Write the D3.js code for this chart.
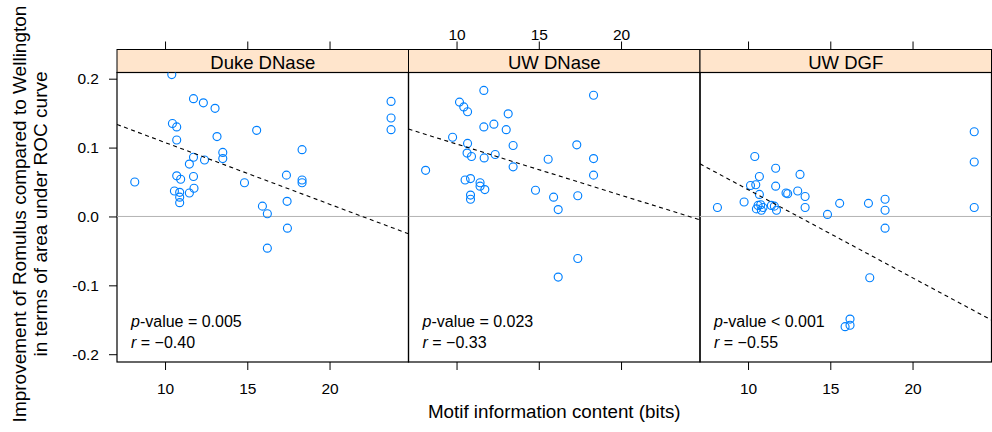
<!DOCTYPE html>
<html>
<head>
<meta charset="utf-8">
<script src="https://cdn.jsdelivr.net/npm/d3@7"></script>
<style>
  html, body { margin: 0; padding: 0; background: #fff; }
  svg { display: block; font-family: "Liberation Sans", Arial, Helvetica, sans-serif; }
</style>
</head>
<body>
<svg id="chart" width="992" height="432"></svg>
<script>
// ---------- data ----------
const panelNames = ["Duke DNase", "UW DNase", "UW DGF"];

const dukeX = [10.41, 11.73, 12.33, 13.04, 10.45, 10.71, 10.71, 13.16, 15.57, 23.74, 23.74, 23.74, 18.33,
  11.73, 12.40, 13.51, 13.51, 11.48, 8.16, 10.71, 10.95, 11.73, 10.57, 10.89, 10.89, 10.89, 11.48, 11.76,
  14.83, 17.38, 18.33, 18.33, 17.42, 15.92, 16.22, 17.44, 16.22];
const dukeY = [0.206, 0.171, 0.165, 0.157, 0.135, 0.130, 0.111, 0.116, 0.125, 0.167, 0.143, 0.126, 0.097,
  0.086, 0.082, 0.093, 0.084, 0.076, 0.050, 0.059, 0.054, 0.058, 0.037, 0.035, 0.028, 0.020, 0.034, 0.041,
  0.049, 0.060, 0.053, 0.049, 0.022, 0.015, 0.004, -0.017, -0.046];

const uwDnaseX = [11.66, 18.33, 10.18, 10.44, 10.67, 13.14, 12.27, 11.66, 13.02, 9.76, 10.67, 13.44, 17.31,
  10.64, 10.91, 11.68, 12.35, 15.57, 18.33, 13.44, 8.12, 18.33, 10.52, 10.85, 11.43, 11.43, 11.72, 10.85,
  10.85, 14.80, 15.90, 17.37, 16.18, 17.37, 16.18];
const uwDnaseY = [0.183, 0.176, 0.166, 0.159, 0.152, 0.149, 0.134, 0.130, 0.126, 0.115, 0.106, 0.103, 0.104,
  0.092, 0.087, 0.085, 0.090, 0.083, 0.084, 0.072, 0.067, 0.060, 0.053, 0.055, 0.049, 0.044, 0.039, 0.031,
  0.025, 0.038, 0.028, 0.030, 0.010, -0.061, -0.088];

const uwDgfX = [23.75, 23.75, 23.75, 10.41, 11.68, 10.69, 13.16, 10.15, 10.47, 11.68, 10.69, 12.31, 12.41,
  13.02, 13.47, 9.76, 8.14, 10.61, 10.77, 10.51, 10.81, 10.91, 11.42, 11.60, 11.73, 13.47, 14.83, 15.57,
  17.32, 18.33, 18.33, 18.33, 17.40, 16.20, 16.20, 15.90];
const uwDgfY = [0.123, 0.079, 0.013, 0.087, 0.070, 0.058, 0.061, 0.045, 0.046, 0.044, 0.032, 0.034, 0.033,
  0.037, 0.029, 0.021, 0.013, 0.016, 0.017, 0.011, 0.009, 0.013, 0.016, 0.015, 0.009, 0.013, 0.003, 0.019,
  0.019, 0.025, 0.009, -0.017, -0.089, -0.149, -0.158, -0.160];

// fitted regression lines (intercept, slope)
const fitIntercept = [0.197, 0.1796, 0.167];
const fitSlope = [-0.00896, -0.00744, -0.0128];

const pValueOp = ["=", "=", "<"];
const pValueNum = ["0.005", "0.023", "0.001"];
const rValue = ["\u22120.40", "\u22120.33", "\u22120.55"];

const xTicks = [10, 15, 20];
const yTicks = [-0.2, -0.1, 0.0, 0.1, 0.2];
const yTickLabels = ["-0.2", "-0.1", "0.0", "0.1", "0.2"];

const xTitle = "Motif information content (bits)";
const yTitle1 = "Improvement of Romulus compared to Wellington";
const yTitle2 = "in terms of area under ROC curve";

// ---------- layout ----------
const svg = d3.select("#chart");
const panelLeft0 = 117, panelW = 291.5;
const panelTop = 72.5, panelBottom = 362;
const stripTop = 49.5;
const tickLen = 8;
const pointColor = "#0080ff";

const x = d3.scaleLinear().domain([7.08, 24.80]).range([0, panelW]);
const y = d3.scaleLinear().domain([-0.2113, 0.209]).range([panelBottom, panelTop]);

const series = [
  dukeX.map((v, i) => ({x: v, y: dukeY[i]})),
  uwDnaseX.map((v, i) => ({x: v, y: uwDnaseY[i]})),
  uwDgfX.map((v, i) => ({x: v, y: uwDgfY[i]}))
];

panelNames.forEach((name, pi) => {
  const left = panelLeft0 + pi * panelW;
  const g = svg.append("g").attr("transform", `translate(${left},0)`);
  const clipId = "clip" + pi;
  svg.append("clipPath").attr("id", clipId)
    .append("rect").attr("x", left).attr("y", panelTop).attr("width", panelW).attr("height", panelBottom - panelTop);

  const inner = svg.append("g").attr("clip-path", `url(#${clipId})`)
    .append("g").attr("transform", `translate(${left},0)`);

  // zero reference line
  inner.append("line")
    .attr("x1", 0).attr("x2", panelW)
    .attr("y1", y(0)).attr("y2", y(0))
    .attr("stroke", "#b3b3b3").attr("stroke-width", 1);

  // points
  inner.selectAll("circle").data(series[pi]).enter().append("circle")
    .attr("cx", d => x(d.x)).attr("cy", d => y(d.y)).attr("r", 4)
    .attr("fill", "none").attr("stroke", pointColor).attr("stroke-width", 1.15);

  // regression line
  const [d0, d1] = x.domain();
  inner.append("line")
    .attr("x1", x(d0)).attr("y1", y(fitIntercept[pi] + fitSlope[pi] * d0))
    .attr("x2", x(d1)).attr("y2", y(fitIntercept[pi] + fitSlope[pi] * d1))
    .attr("stroke", "#000").attr("stroke-width", 1.1).attr("stroke-dasharray", "4,3.5");

  // annotation
  const t1 = g.append("text").attr("x", 14).attr("y", 326.5)
    .attr("font-size", 16).attr("fill", "#000");
  t1.append("tspan").attr("font-style", "italic").text("p");
  t1.append("tspan").text(`-value ${pValueOp[pi]} ${pValueNum[pi]}`);
  const t2 = g.append("text").attr("x", 14).attr("y", 347.5)
    .attr("font-size", 16).attr("fill", "#000");
  t2.append("tspan").attr("font-style", "italic").text("r");
  t2.append("tspan").text(` = ${rValue[pi]}`);

  // strip
  g.append("rect").attr("x", 0).attr("y", stripTop).attr("width", panelW).attr("height", panelTop - stripTop)
    .attr("fill", "#ffe5cc").attr("stroke", "#000").attr("stroke-width", 1);
  g.append("text").attr("x", panelW / 2).attr("y", 68.5).attr("text-anchor", "middle")
    .attr("font-size", 18.5).attr("fill", "#000").text(name);

  // panel border
  g.append("rect").attr("x", 0).attr("y", panelTop).attr("width", panelW).attr("height", panelBottom - panelTop)
    .attr("fill", "none").attr("stroke", "#000").attr("stroke-width", 1.2);

  // top axis ticks (labels only on middle panel)
  const top = d3.axisTop(x).tickValues(xTicks).tickSize(tickLen).tickSizeOuter(0).tickPadding(2)
    .tickFormat(pi === 1 ? d3.format("d") : () => "");
  const ta = g.append("g").attr("transform", `translate(0,${stripTop})`).call(top);
  ta.select(".domain").remove();

  // bottom axis ticks (labels on outer panels)
  const bottom = d3.axisBottom(x).tickValues(xTicks).tickSize(tickLen).tickSizeOuter(0).tickPadding(13)
    .tickFormat(pi !== 1 ? d3.format("d") : () => "");
  const ba = g.append("g").attr("transform", `translate(0,${panelBottom})`).call(bottom);
  ba.select(".domain").remove();

  [ta, ba].forEach(a => {
    a.selectAll("text").attr("font-size", 15.5).attr("fill", "#000")
      .attr("font-family", "'Liberation Sans', Arial, sans-serif");
    a.selectAll("line").attr("stroke", "#000");
  });
});

// left y axis
const la = svg.append("g").attr("transform", `translate(${panelLeft0},0)`)
  .call(d3.axisLeft(y).tickValues(yTicks).tickSize(tickLen).tickSizeOuter(0).tickPadding(10)
    .tickFormat((d, i) => yTickLabels[i]));
la.select(".domain").remove();
la.selectAll("text").attr("font-size", 15.5).attr("fill", "#000")
  .attr("font-family", "'Liberation Sans', Arial, sans-serif");
la.selectAll("line").attr("stroke", "#000");

// right y axis (ticks only)
const ra = svg.append("g").attr("transform", `translate(${panelLeft0 + 3 * panelW},0)`)
  .call(d3.axisRight(y).tickValues(yTicks).tickSize(tickLen).tickSizeOuter(0).tickFormat(() => ""));
ra.select(".domain").remove();
ra.selectAll("line").attr("stroke", "#000");

// axis titles
svg.append("text").attr("x", panelLeft0 + 1.5 * panelW).attr("y", 417.5)
  .attr("text-anchor", "middle").attr("font-size", 18.8).attr("fill", "#000").text(xTitle);

const yc = 214;
svg.append("text").attr("transform", `translate(26,${yc}) rotate(-90)`)
  .attr("text-anchor", "middle").attr("font-size", 19).attr("fill", "#000").text(yTitle1);
svg.append("text").attr("transform", `translate(47,${yc}) rotate(-90)`)
  .attr("text-anchor", "middle").attr("font-size", 19).attr("fill", "#000").text(yTitle2);
</script>
</body>
</html>
